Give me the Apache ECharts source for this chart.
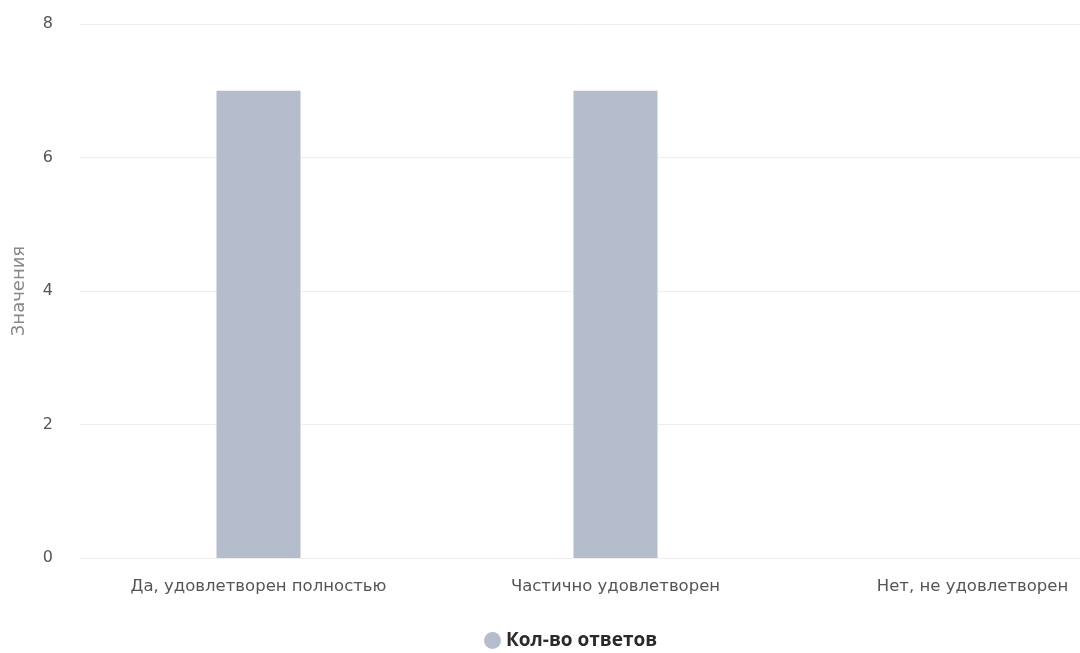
<!DOCTYPE html>
<html><head><meta charset="utf-8">
<script src="https://cdn.jsdelivr.net/npm/echarts@6/dist/echarts.min.js"></script>
<style>html,body{margin:0;padding:0;background:#fff}#c{width:1080px;height:653px}</style>
</head><body><div id="c"></div>
<script>
const categories = ['Да, удовлетворен полностью', 'Частично удовлетворен', 'Нет, не удовлетворен'];
const values = [7, 7, 0];
const seriesName = 'Кол-во ответов';
const yTicks = [0, 2, 4, 6, 8];
const yAxisName = 'Значения';

const chart = echarts.init(document.getElementById('c'));
chart.setOption({
  animation: false,
  textStyle: { fontFamily: 'DejaVu Sans' },
  grid: { left: 80, width: 1071, top: 24, bottom: 95, containLabel: false, outerBoundsMode: 'none' },
  legend: {
    top: 626, left: 479, icon: 'circle', itemWidth: 17, itemHeight: 17, itemGap: 12,
    textStyle: { fontSize: 19, fontWeight: 'bold', color: '#2a2a2a', fontFamily: 'Open Sans' },
    data: [seriesName]
  },
  xAxis: {
    type: 'category', data: categories,
    axisLine: { show: false }, axisTick: { show: false },
    axisLabel: { fontSize: 16.5, color: '#555', margin: 20, interval: 0 }
  },
  yAxis: {
    type: 'value', min: yTicks[0], max: yTicks[yTicks.length - 1], interval: 2,
    name: yAxisName, nameLocation: 'middle', nameGap: 52, nameRotate: 90,
    nameTextStyle: { fontSize: 18, color: '#888' },
    axisLabel: { fontSize: 16, color: '#555', margin: 27 },
    splitLine: { lineStyle: { color: '#eeeeee' } }
  },
  series: [{
    name: seriesName, type: 'bar', data: values, barWidth: 84,
    itemStyle: { color: '#b5bccb' }
  }]
});
</script></body></html>
